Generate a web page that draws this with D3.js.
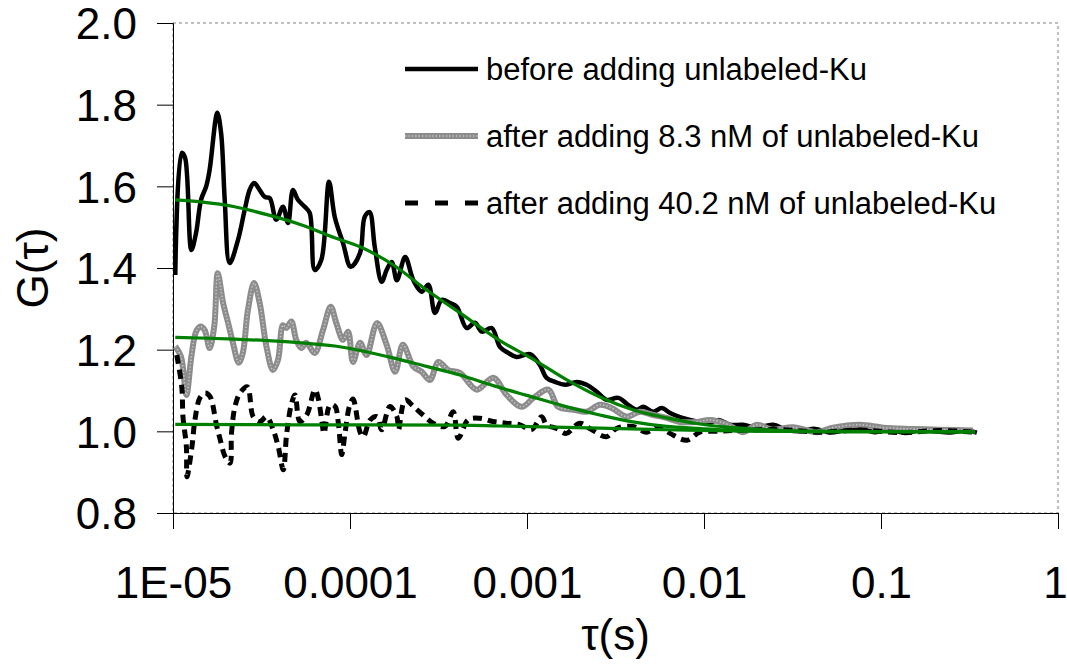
<!DOCTYPE html>
<html><head><meta charset="utf-8">
<script src="https://cdn.jsdelivr.net/npm/d3@7"></script>
<style>body{margin:0;background:#fff}svg{display:block}text{font-family:"Liberation Sans",Arial,sans-serif;fill:#000}</style>
</head><body><svg id="c" width="1067" height="664"></svg>
<script>
// ---- data ----
const xTickValues = [1e-5, 1e-4, 1e-3, 1e-2, 1e-1, 1];
const xTickLabels = ["1E-05", "0.0001", "0.001", "0.01", "0.1", "1"];
const yTickValues = [0.8, 1.0, 1.2, 1.4, 1.6, 1.8, 2.0];
const yTickLabels = ["0.8", "1.0", "1.2", "1.4", "1.6", "1.8", "2.0"];
const seriesNames = ["before adding unlabeled-Ku", "after adding 8.3 nM of unlabeled-Ku", "after adding 40.2 nM of unlabeled-Ku"];

const beforeTau = [1.03e-5,1.12e-5,1.17e-5,1.27e-5,1.35e-5,1.44e-5,1.54e-5,1.61e-5,1.78e-5,1.87e-5,1.96e-5,2.09e-5,2.33e-5,2.54e-5,2.71e-5,2.87e-5,3.09e-5,3.30e-5,3.52e-5,3.83e-5,4.18e-5,4.47e-5,4.76e-5,5.08e-5,5.55e-5,5.92e-5,6.32e-5,6.89e-5,7.61e-5,8.20e-5,9.13e-5,1.01e-4,1.14e-4,1.21e-4,1.29e-4,1.38e-4,1.51e-4,1.61e-4,1.72e-4,1.84e-4,2.05e-4,2.28e-4,2.54e-4,2.77e-4,3.02e-4,3.30e-4,3.67e-4,4.01e-4,4.56e-4,5.08e-4,5.55e-4,6.32e-4,7.03e-4,7.84e-4,8.75e-4,1.04e-3,1.18e-3,1.29e-3,1.44e-3,1.64e-3,1.91e-3,2.17e-3,2.48e-3,2.82e-3,3.28e-3,3.73e-3,4.17e-3,4.54e-3,5.17e-3,5.77e-3,6.43e-3,7.31e-3,8.34e-3,9.48e-3,1.08e-2,1.21e-2,1.40e-2,1.66e-2,1.99e-2,2.45e-2,2.93e-2,3.47e-2,4.24e-2,5.15e-2,6.26e-2,7.61e-2,9.25e-2,0.112,0.137,0.166,0.202,0.245,0.298,0.348];
const beforeG = [1.383,1.682,1.670,1.444,1.486,1.567,1.600,1.640,1.780,1.730,1.567,1.412,1.469,1.542,1.591,1.608,1.591,1.574,1.571,1.518,1.550,1.510,1.591,1.567,1.550,1.535,1.395,1.420,1.611,1.525,1.461,1.403,1.437,1.525,1.537,1.452,1.366,1.395,1.415,1.370,1.427,1.370,1.342,1.359,1.290,1.322,1.314,1.305,1.253,1.266,1.244,1.253,1.207,1.192,1.182,1.189,1.163,1.131,1.121,1.114,1.121,1.114,1.097,1.077,1.082,1.065,1.053,1.060,1.048,1.057,1.045,1.035,1.028,1.023,1.021,1.028,1.016,1.016,1.009,1.016,1.004,1.000,1.006,0.997,1.003,1.007,0.998,1.004,0.996,1.003,1.000,0.997,1.002,0.997];

const midTau = [1.03e-5,1.11e-5,1.19e-5,1.27e-5,1.35e-5,1.43e-5,1.51e-5,1.61e-5,1.71e-5,1.79e-5,1.92e-5,2.05e-5,2.18e-5,2.35e-5,2.48e-5,2.65e-5,2.87e-5,3.09e-5,3.37e-5,3.67e-5,3.92e-5,4.18e-5,4.37e-5,4.66e-5,4.97e-5,5.31e-5,5.66e-5,6.32e-5,7.04e-5,7.78e-5,8.37e-5,9.13e-5,9.75e-5,1.04e-4,1.14e-4,1.24e-4,1.42e-4,1.61e-4,1.80e-4,1.99e-4,2.28e-4,2.54e-4,2.83e-4,3.16e-4,3.59e-4,4.18e-4,5.20e-4,6.45e-4,7.68e-4,9.33e-4,1.09e-3,1.32e-3,1.50e-3,1.83e-3,2.17e-3,2.58e-3,3.01e-3,3.66e-3,4.35e-3,5.17e-3,6.15e-3,7.31e-3,9.10e-3,1.08e-2,1.34e-2,1.66e-2,1.99e-2,2.45e-2,3.18e-2,4.34e-2,5.36e-2,7.61e-2,0.103,0.152,0.215,0.331];
const midG = [1.208,1.183,1.089,1.183,1.244,1.257,1.248,1.204,1.257,1.387,1.314,1.265,1.217,1.168,1.192,1.297,1.363,1.314,1.208,1.150,1.175,1.260,1.253,1.269,1.224,1.204,1.217,1.192,1.248,1.305,1.265,1.224,1.244,1.170,1.217,1.187,1.265,1.212,1.146,1.212,1.159,1.146,1.126,1.170,1.150,1.143,1.102,1.131,1.089,1.060,1.082,1.102,1.060,1.053,1.048,1.065,1.057,1.036,1.048,1.040,1.033,1.023,1.023,1.028,1.018,0.998,1.016,1.004,1.010,0.998,1.009,1.016,1.009,1.006,1.004,1.002];

const highTau = [1.05e-5,1.12e-5,1.14e-5,1.19e-5,1.20e-5,1.28e-5,1.33e-5,1.42e-5,1.52e-5,1.62e-5,1.76e-5,1.83e-5,1.97e-5,2.10e-5,2.14e-5,2.24e-5,2.39e-5,2.63e-5,2.84e-5,3.10e-5,3.38e-5,3.68e-5,3.93e-5,4.20e-5,4.39e-5,4.68e-5,4.89e-5,5.21e-5,5.69e-5,6.34e-5,6.62e-5,6.92e-5,7.13e-5,7.71e-5,8.23e-5,8.59e-5,8.98e-5,9.37e-5,9.92e-5,1.04e-4,1.14e-4,1.19e-4,1.30e-4,1.42e-4,1.51e-4,1.68e-4,1.84e-4,1.88e-4,2.05e-4,2.28e-4,2.59e-4,2.95e-4,3.44e-4,3.83e-4,4.09e-4,4.65e-4,5.41e-4,6.42e-4,7.63e-4,9.13e-4,1.06e-3,1.21e-3,1.29e-3,1.47e-3,1.67e-3,1.98e-3,2.26e-3,2.81e-3,3.20e-3,3.98e-3,4.74e-3,5.52e-3,6.43e-3,8.00e-3,9.48e-3,1.18e-2,1.46e-2,2.69e-2,4.52e-2,7.61e-2,0.128,0.215,0.340];
const highG = [1.187,1.110,1.033,0.963,0.889,0.963,1.028,1.082,1.094,1.085,1.016,0.987,0.938,0.922,0.995,1.061,1.094,1.109,1.036,1.024,1.036,1.004,0.963,0.906,0.995,1.069,1.089,1.024,1.040,1.102,1.080,1.028,0.995,1.065,1.061,1.021,0.943,0.995,1.061,1.079,0.998,0.987,1.028,1.036,1.004,1.061,1.036,1.004,1.077,1.061,1.040,1.020,1.012,1.048,0.983,1.028,1.032,1.024,1.020,1.016,1.004,1.036,1.016,1.007,0.995,1.020,1.007,0.987,1.007,1.012,0.998,1.012,0.995,0.978,0.998,1.000,1.002,1.004,0.998,1.003,0.997,1.002,0.998];

const fitBeforeTau = [1.03e-5,1.44e-5,2.23e-5,3.44e-5,5.28e-5,8.20e-5,1.14e-4,1.75e-4,2.71e-4,4.18e-4,7.03e-4,1.08e-3,1.68e-3,2.58e-3,3.96e-3,6.15e-3,9.48e-3,1.46e-2,2.26e-2,3.47e-2,0.128,0.340];
const fitBeforeG = [1.567,1.562,1.550,1.530,1.506,1.474,1.452,1.408,1.346,1.290,1.222,1.177,1.126,1.084,1.053,1.033,1.018,1.009,1.004,1.000,0.999,0.998];
const fitMidTau = [1.03e-5,2.23e-5,3.44e-5,5.28e-5,8.20e-5,1.14e-4,1.75e-4,2.71e-4,4.18e-4,6.45e-4,9.98e-4,1.68e-3,2.58e-3,3.96e-3,6.15e-3,9.48e-3,1.46e-2,3.47e-2,0.340];
const fitMidG = [1.230,1.226,1.222,1.217,1.209,1.198,1.180,1.159,1.138,1.112,1.088,1.060,1.040,1.023,1.012,1.007,1.002,1.000,0.999];
const fitHighTau = [1.03e-5,5.21e-5,4.18e-4,7.03e-4,2.58e-3,9.48e-3,3.47e-2,0.340];
const fitHighG = [1.017,1.016,1.015,1.013,1.008,1.002,1.000,0.999];

// ---- chart ----
const svg = d3.select("#c");
const L = 173, R = 1058, T = 23, B = 513;
const x = d3.scaleLog().domain([1e-5, 1]).range([L, R]);
const y = d3.scaleLinear().domain([0.8, 2.0]).range([B, T]);

// plot area dashed border
svg.append("rect").attr("x", L).attr("y", T).attr("width", R - L).attr("height", B - T)
  .attr("fill", "none").attr("stroke", "#808080").attr("stroke-width", 1).attr("stroke-dasharray", "3,3");

const xAxis = d3.axisBottom(x).tickValues(xTickValues).tickFormat((d, i) => xTickLabels[i]).tickSize(16).tickPadding(38);
const yAxis = d3.axisLeft(y).tickValues(yTickValues).tickFormat((d, i) => yTickLabels[i]).tickSize(16).tickPadding(20);

const gx = svg.append("g").attr("transform", `translate(0,${B})`).call(xAxis);
const gy = svg.append("g").attr("transform", `translate(${L},0)`).call(yAxis);
[gx, gy].forEach(g => {
  g.selectAll("path.domain").attr("stroke", "#000").attr("stroke-width", 1);
  g.selectAll(".tick line").attr("stroke", "#000").attr("stroke-width", 1);
  g.selectAll(".tick text").attr("font-size", 44).attr("font-family", '"Liberation Sans", Arial, sans-serif').attr("fill", "#000");
});
// keep the last x label inside the picture, as in the reference
gx.selectAll(".tick text").filter((d, i) => i === xTickValues.length - 1).attr("dx", -3);
gy.selectAll(".tick text").attr("dy", "0.36em");

const zip = (t, g) => t.map((v, i) => [v, g[i]]);
const line = d3.line().x(d => x(d[0])).y(d => y(d[1])).curve(d3.curveCatmullRom.alpha(0.5));

const plot = svg.append("g");
// black solid
plot.append("path").attr("d", line(zip(beforeTau, beforeG))).attr("fill", "none")
  .attr("stroke", "#000").attr("stroke-width", 4.5).attr("stroke-linejoin", "round");
// grey textured
plot.append("path").attr("d", line(zip(midTau, midG))).attr("fill", "none")
  .attr("stroke", "#8c8c8c").attr("stroke-width", 6).attr("stroke-linejoin", "round");
plot.append("path").attr("d", line(zip(midTau, midG))).attr("fill", "none")
  .attr("stroke", "#c4c4c4").attr("stroke-width", 1.6).attr("stroke-dasharray", "1.4,2");
// black dashed
plot.append("path").attr("d", line(zip(highTau, highG))).attr("fill", "none")
  .attr("stroke", "#000").attr("stroke-width", 5).attr("stroke-dasharray", "9,6");
// fits
[[fitBeforeTau, fitBeforeG], [fitMidTau, fitMidG], [fitHighTau, fitHighG]].forEach(([t, g]) => {
  plot.append("path").attr("d", line(zip(t, g))).attr("fill", "none")
    .attr("stroke", "#008000").attr("stroke-width", 3.2);
});

// legend
const legY = [69, 136, 203];
const lg = svg.append("g");
lg.append("line").attr("x1", 405).attr("x2", 478).attr("y1", legY[0]).attr("y2", legY[0]).attr("stroke", "#000").attr("stroke-width", 4.5);
lg.append("line").attr("x1", 405).attr("x2", 478).attr("y1", legY[1]).attr("y2", legY[1]).attr("stroke", "#8c8c8c").attr("stroke-width", 6);
lg.append("line").attr("x1", 405).attr("x2", 478).attr("y1", legY[1]).attr("y2", legY[1]).attr("stroke", "#c4c4c4").attr("stroke-width", 1.6).attr("stroke-dasharray", "1.4,2");
lg.append("line").attr("x1", 405).attr("x2", 478).attr("y1", legY[2]).attr("y2", legY[2]).attr("stroke", "#000").attr("stroke-width", 5).attr("stroke-dasharray", "13,17");
seriesNames.forEach((n, i) => {
  lg.append("text").attr("x", 486).attr("y", legY[i]).attr("dy", "0.35em").attr("font-size", 31).text(n);
});

// axis titles
svg.append("text").attr("x", (L + R) / 2).attr("y", 650).attr("text-anchor", "middle").attr("font-size", 44).text("τ(s)");
svg.append("text").attr("transform", `translate(48,${(T + B) / 2}) rotate(-90)`).attr("text-anchor", "middle").attr("font-size", 44).text("G(τ)");
</script></body></html>
